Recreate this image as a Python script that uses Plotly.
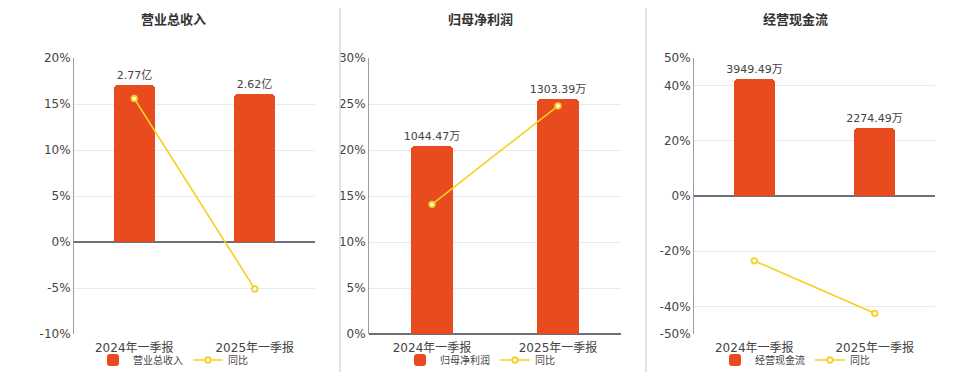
import plotly.graph_objects as go

categories = ["2024年一季报", "2025年一季报"]

titles = ["营业总收入", "归母净利润", "经营现金流"]
bar_names = ["营业总收入", "归母净利润", "经营现金流"]

revenue = [2.77, 2.62]          # 亿
revenue_yoy = [15.6, -5.1]      # %
profit = [1044.47, 1303.39]     # 万
profit_yoy = [14.1, 24.8]       # %
cashflow = [3949.49, 2274.49]   # 万
cashflow_yoy = [-23.5, -42.5]   # %

bar_labels = [["2.77亿", "2.62亿"], ["1044.47万", "1303.39万"], ["3949.49万", "2274.49万"]]
bar_values = [revenue, profit, cashflow]
yoy_values = [revenue_yoy, profit_yoy, cashflow_yoy]
y_ranges = [[-10, 20], [0, 30], [-50, 50]]
y_ticks = [[-10, -5, 0, 5, 10, 15, 20], [0, 5, 10, 15, 20, 25, 30], [-50, -40, -20, 0, 20, 40, 50]]
y_tick_text = [["-10%", "-5%", "0%", "5%", "10%", "15%", "20%"],
               ["0%", "5%", "10%", "15%", "20%", "25%", "30%"],
               ["-50%", "-40%", "-20%", "0%", "20%", "40%", "50%"]]

# page body has an 8px margin, so the figure is drawn 8px in from the window edge
OFF = 8
W, H = 960 - OFF, 372 - OFF


def px_x(x):
    return (x - OFF) / W


def px_y(y):
    return 1 - (y - OFF) / H


x_domains_px = [(74, 315), (369, 621), (694, 935)]
centers_px = [173, 480, 795]
top_px, bot_px = 58, 334

BAR = "#E84B1D"
LINE = "#F5D01E"
FONT = "DejaVu Sans, Noto Sans CJK SC, sans-serif"

fig = go.Figure()
layout = {}
for i in range(3):
    n = i + 1
    xa = "x" if i == 0 else f"x{n}"
    yb = "y" if i == 0 else f"y{2*i+1}"     # bar axis (hidden, base)
    yp = f"y{2*i+2}"                          # percent axis (visible, overlay)
    leg = "legend" if i == 0 else f"legend{n}"
    bars = bar_values[i]
    fig.add_trace(go.Bar(
        x=categories, y=bars, name=bar_names[i], xaxis=xa, yaxis=yb,
        marker=dict(color=BAR, cornerradius=4, line=dict(width=0)),
        width=0.34, text=bar_labels[i], textposition="outside", cliponaxis=False,
        constraintext="none",
        textfont=dict(size=11, color="#444", family=FONT), legend=leg,
    ))
    fig.add_trace(go.Scatter(
        x=categories, y=yoy_values[i], name="同比", xaxis=xa, yaxis=yp,
        mode="lines+markers", line=dict(color=LINE, width=1.6),
        marker=dict(size=5.5, color="white", line=dict(color=LINE, width=1.8)),
        legend=leg,
    ))
    lo, hi = y_ranges[i]
    top = max(bars) * 1.175
    yb_range = [lo / hi * top, top]
    xd = [px_x(x_domains_px[i][0]), px_x(x_domains_px[i][1])]
    yd = [px_y(bot_px), px_y(top_px)]
    xkey = "xaxis" if i == 0 else f"xaxis{n}"
    ybkey = "yaxis" if i == 0 else f"yaxis{2*i+1}"
    ypkey = f"yaxis{2*i+2}"
    layout[xkey] = dict(domain=xd, anchor=yb, showline=False, showgrid=False,
                        ticks="", ticklabelstandoff=5,
                        tickfont=dict(size=12, color="#444", family=FONT),
                        fixedrange=True)
    layout[ybkey] = dict(domain=yd, anchor=xa, range=yb_range, visible=False,
                         showgrid=False, zeroline=False)
    layout[ypkey] = dict(overlaying=yb, anchor=xa, side="left", range=[lo, hi],
                         tickmode="array", tickvals=y_ticks[i], ticktext=y_tick_text[i],
                         showgrid=True, gridcolor="#E6EAF3", gridwidth=1,
                         zeroline=True, zerolinecolor="#6E7079", zerolinewidth=1.5,
                         showline=True, linecolor="#9a9ea8", linewidth=1,
                         tickfont=dict(size=12, color="#444", family=FONT), ticks="")
    layout[leg] = dict(orientation="h", x=px_x(centers_px[i]), xanchor="center",
                       y=px_y(360), yanchor="middle", font=dict(size=10, color="#444", family=FONT),
                       bgcolor="rgba(0,0,0,0)", itemwidth=30, tracegroupgap=0)

annotations = [dict(text=f"<b>{titles[i]}</b>", x=px_x(centers_px[i]), y=px_y(19),
                    xref="paper", yref="paper", xanchor="center", yanchor="middle",
                    showarrow=False, font=dict(size=13, color="#333", family=FONT))
               for i in range(3)]

shapes = [dict(type="line", xref="paper", yref="paper", x0=px_x(x), x1=px_x(x),
               y0=0, y1=1, line=dict(color="#D9D9D9", width=1.5))
          for x in (340, 646)]

fig.update_layout(
    width=W, height=H, margin=dict(l=0, r=0, t=0, b=0, autoexpand=False),
    paper_bgcolor="white", plot_bgcolor="white",
    bargap=0, annotations=annotations, shapes=shapes,
    font=dict(family=FONT),
    **layout,
)

fig.write_html("out.html")
